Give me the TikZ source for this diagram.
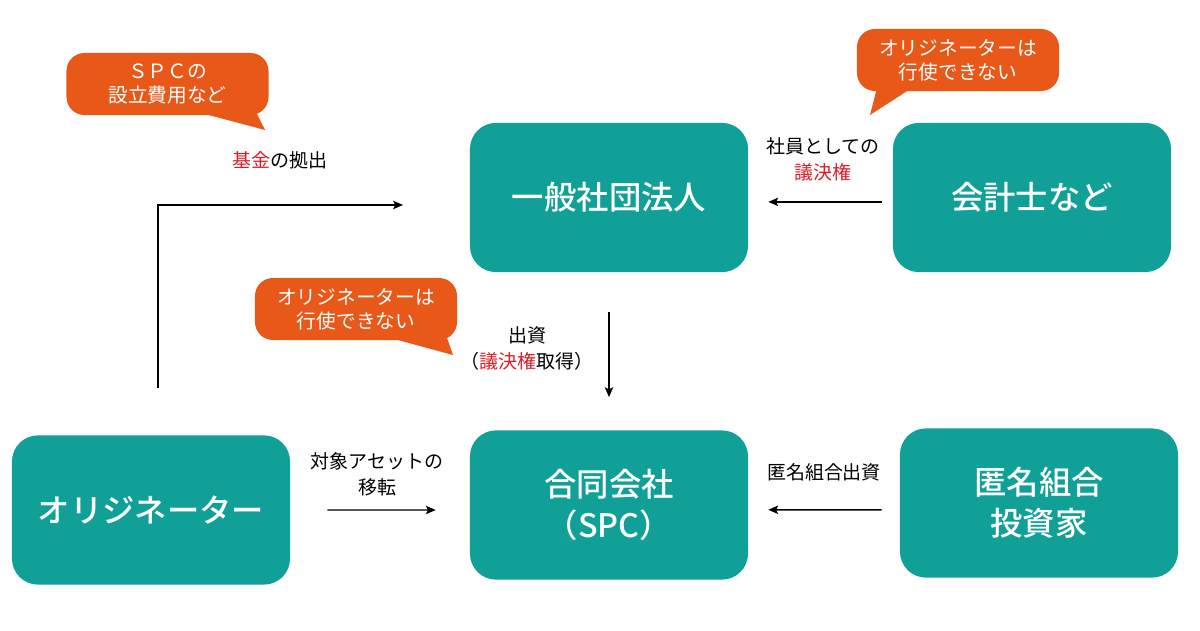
\documentclass[tikz,border=0pt]{standalone}
\usepackage{fontspec}
\setmainfont{Noto Sans CJK JP}
\newfontfamily\boxfont{Noto Sans CJK JP Medium}
\usetikzlibrary{shapes, arrows.meta, positioning}
\definecolor{boxteal}{RGB}{16,160,151}
\definecolor{bubbleorange}{RGB}{232,88,24}
\definecolor{keyred}{RGB}{222,28,38}

\begin{document}
\begin{tikzpicture}[
	x=0.025cm, y=-0.025cm,
	>={Stealth[length=7pt, width=6pt, inset=1.5pt]},
	MyBox/.style={rectangle, rounded corners=0.65cm, fill=boxteal, text=white,
		minimum width=6.95cm, minimum height=3.73cm, align=center,
		font=\fontsize{23}{29}\boxfont},
	MyBubble/.style={rectangle, rounded corners=0.45cm, fill=bubbleorange, text=white,
		minimum width=5.05cm, minimum height=1.55cm, align=center, inner sep=0pt,
		font=\fontsize{14}{17}\selectfont},
	MyLabel/.style={align=center, font=\fontsize{13.5}{18.5}\selectfont},
	MyArrow/.style={->, line width=1pt}
	]

\useasboundingbox (0,0) rectangle (1200,630);

% boxes
\node [MyBox] (ippan) at (609,197.5) {一般社団法人};
\node [MyBox] (kaikei) at (1032,197.5) {会計士など};
\node [MyBox] (orig) at (151,510) {オリジネーター};
\node [MyBox] (spc) at (609,505) {合同会社\\（SPC）};
\node [MyBox] (tokumei) at (1039,503) {匿名組合\\投資家};

% callouts
\fill [bubbleorange] (190,110) -- (265,130) -- (250,100) -- cycle;
\node [MyBubble] (spccost) at (167.5,84) {ＳＰＣの\\設立費用など};
\fill [bubbleorange] (878,84) -- (870,115) -- (918,84) -- cycle;
\node [MyBubble] (noright1) at (958,60) {オリジネーターは\\行使できない};
\fill [bubbleorange] (383,336) -- (453,355) -- (440,318) -- cycle;
\node [MyBubble] (noright2) at (356,309) {オリジネーターは\\行使できない};

% labels
\node [MyLabel] (kikin) at (280,160) {\textcolor{keyred}{基金}の拠出};
\node [MyLabel] (shain) at (823,159) {社員としての\\\textcolor{keyred}{議決権}};
\node [MyLabel] (shusshi) at (527,348) {出資\\（\textcolor{keyred}{議決権}取得）};
\node [MyLabel] (iten) at (377,474) {対象アセットの\\移転};
\node [MyLabel] (tokumeilbl) at (824,472) {匿名組合出資};

% connectors
\coordinate (kikinend) at (403,205);
\draw [MyArrow, shorten <=1.175cm] ([xshift=0.175cm]orig.north) |- (kikinend);
\draw [MyArrow, shorten <=0.275cm, shorten >=0.5cm] ([yshift=-0.11cm]kaikei.west) -- ([yshift=-0.11cm]ippan.east);
\draw [MyArrow, shorten <=1cm, shorten >=0.825cm] (ippan.south) -- (spc.north);
\draw [MyArrow, shorten <=0.925cm, shorten >=0.85cm] (orig.east) -- ([yshift=-0.125cm]spc.west);
\draw [MyArrow, shorten <=0.45cm, shorten >=0.5cm] ([yshift=-0.17cm]tokumei.west) -- ([yshift=-0.12cm]spc.east);

\end{tikzpicture}
\end{document}
